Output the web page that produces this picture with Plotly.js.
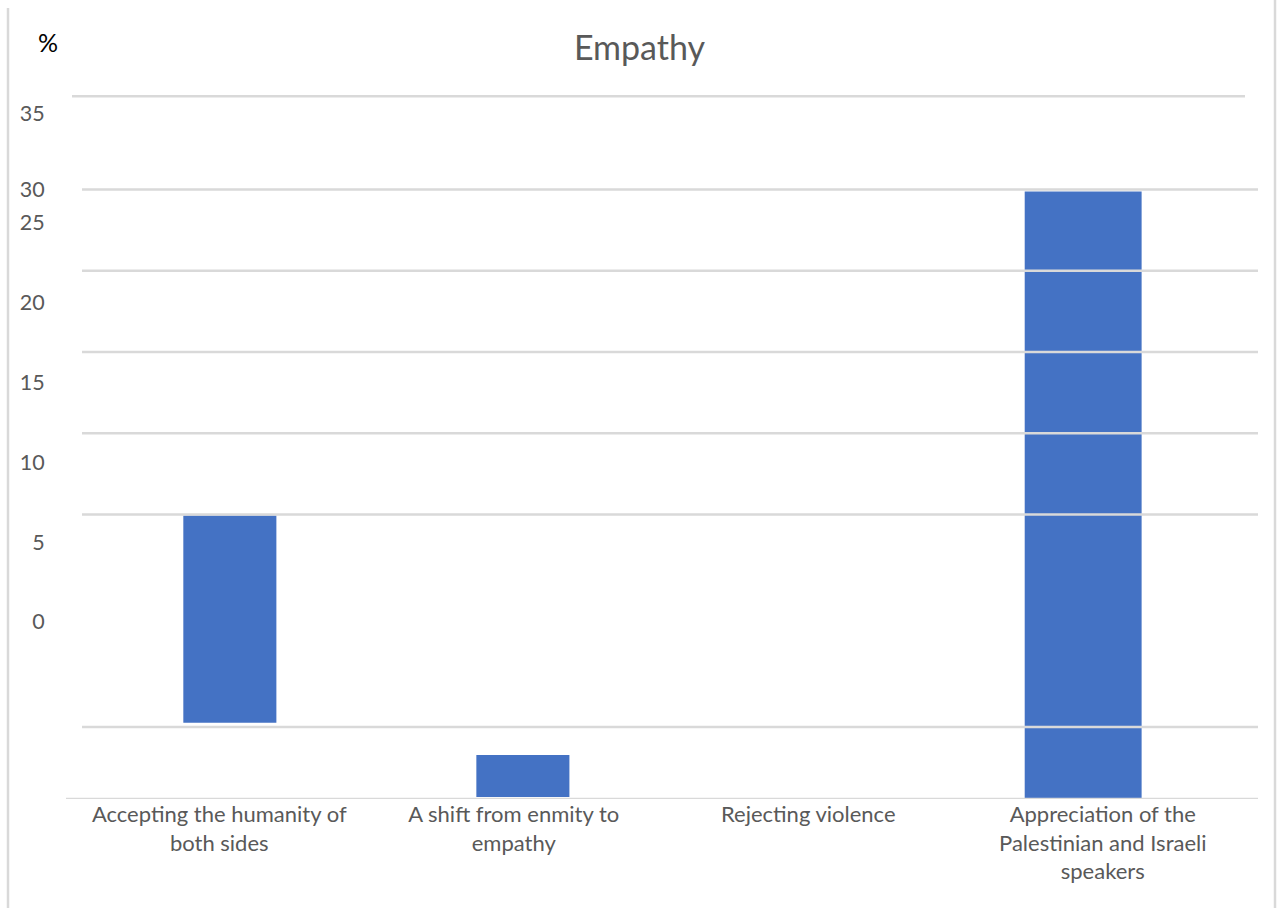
<!DOCTYPE html>
<html>
<head>
<meta charset="utf-8">
<script src="https://cdn.plot.ly/plotly-3.0.1.min.js"></script>
<style>html,body{margin:0;padding:0;background:#fff}#chart{width:1279px;height:908px}</style>
</head>
<body>
<div id="chart"></div>
<script>
// Data
var categories = [
  "Accepting the humanity of<br>both sides",
  "A shift from enmity to<br>empathy",
  "Rejecting violence",
  "Appreciation of the<br>Palestinian and Israeli<br>speakers"
];
var barBase = [3.75, 0.1, 0, 0];
var barValue = [10.2, 2.07, 0, 29.9];
// Gridline levels and the (misplaced) tick labels as they appear
var gridVals = [0, 3.55, 14, 18, 22, 26, 30, 34.6];
var tickLabels = ["35", "30", "25", "20", "15", "10", "5", "0"];
var tickLabelPos = [33.74, 30.0, 28.37, 24.42, 20.48, 16.59, 12.65, 8.76];

var W = 1279, H = 908, ML = 72, MR = 29, MT = 88, MB = 109;
var plotW = W - ML - MR, plotH = H - MT - MB;
function pxX(px) { return (px - ML) / plotW; }
function pxY(py) { return (H - MB - py) / plotH; }

// styling: horizontal extents of each gridline (pixels)
var gridLeft = [66, 82, 82, 82, 82, 82, 82, 72];
var gridRight = [1258, 1258, 1258, 1258, 1258, 1258, 1258, 1245];

var shapes = gridVals.map(function (v, i) {
  return {type: 'line', xref: 'paper', yref: 'y', x0: pxX(gridLeft[i]), x1: pxX(gridRight[i]), y0: v, y1: v,
          line: {color: '#d9d9d9', width: 2.5}, layer: 'above'};
});
shapes.push({type: 'line', xref: 'paper', yref: 'paper', x0: pxX(8), x1: pxX(8), y0: pxY(8), y1: pxY(910),
             line: {color: '#d9d9d9', width: 2.5}, layer: 'above'});
shapes.push({type: 'line', xref: 'paper', yref: 'paper', x0: pxX(1275), x1: pxX(1275), y0: pxY(0), y1: pxY(910),
             line: {color: '#d9d9d9', width: 2.5}, layer: 'above'});

var trace = {
  type: 'bar',
  x: categories,
  y: barValue,
  base: barBase,
  width: [0.316, 0.316, 0.316, 0.397],
  offset: [-0.122, -0.127, -0.158, -0.265],
  marker: {color: '#4472C4', line: {width: 0}},
  hoverinfo: 'skip'
};

var font = "Lato, 'Open Sans', sans-serif";
var layout = {
  width: W, height: H,
  margin: {l: ML, r: MR, t: MT, b: MB},
  paper_bgcolor: '#fff', plot_bgcolor: '#fff',
  showlegend: false,
  font: {family: font, color: '#595959', size: 22},
  title: {text: 'Empathy', font: {family: font, size: 34, color: '#595959'}, x: 0.5, xanchor: 'center', xref: 'container',
          y: 1 - 48 / H, yanchor: 'middle'},
  xaxis: {
    showgrid: false, zeroline: false, showline: false, ticks: '',
    tickfont: {family: font, size: 22, color: '#595959'},
    range: [-0.5, 3.5]
  },
  yaxis: {
    range: [0, 35], showgrid: false, zeroline: false, showline: false,
    tickvals: tickLabelPos, ticktext: tickLabels,
    ticks: 'outside', ticklen: 22, tickcolor: 'rgba(0,0,0,0)',
    tickfont: {family: font, size: 21.5, color: '#595959'}
  },
  shapes: shapes,
  annotations: [{
    text: '%', xref: 'paper', yref: 'paper', x: pxX(48), y: pxY(42), xanchor: 'center', yanchor: 'middle',
    showarrow: false, font: {family: font, size: 25, color: '#000'}
  }]
};

Plotly.newPlot('chart', [trace], layout, {displayModeBar: false, staticPlot: true});
</script>
</body>
</html>
